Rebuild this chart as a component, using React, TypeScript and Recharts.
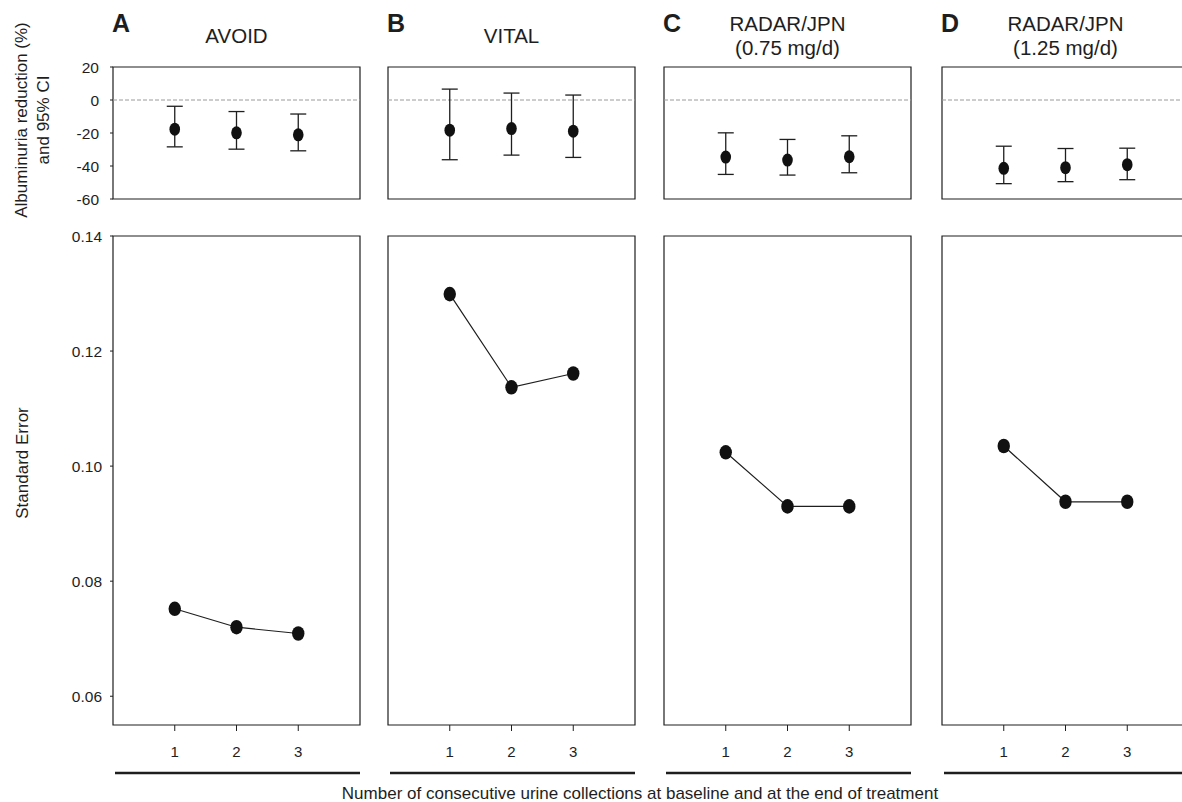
import {
  ScatterChart,
  Scatter,
  LineChart,
  Line,
  XAxis,
  YAxis,
  ErrorBar,
  ReferenceLine,
  ReferenceArea,
} from 'recharts';

const FONT = '"Liberation Sans", Arial, Helvetica, sans-serif';
const INK = '#1e1e1e';

const collections = [1, 2, 3];

const panelLetters = ['A', 'B', 'C', 'D'];
const studyNames = ['AVOID', 'VITAL', 'RADAR/JPN', 'RADAR/JPN'];
const studyDoses = ['', '', '(0.75 mg/d)', '(1.25 mg/d)'];

// albuminuria reduction (%) with 95% CI
const avoidReduction = [-17.7, -19.9, -21.1];
const avoidLower = [-28.4, -29.8, -30.8];
const avoidUpper = [-3.8, -7.0, -8.5];

const vitalReduction = [-18.3, -17.3, -18.9];
const vitalLower = [-36.2, -33.4, -34.8];
const vitalUpper = [6.6, 4.2, 3.0];

const radar075Reduction = [-34.6, -36.4, -34.4];
const radar075Lower = [-45.1, -45.5, -44.1];
const radar075Upper = [-19.9, -23.9, -21.7];

const radar125Reduction = [-41.4, -41.0, -39.2];
const radar125Lower = [-50.7, -49.5, -48.3];
const radar125Upper = [-28.0, -29.4, -29.2];

// standard error
const avoidSE = [0.0752, 0.072, 0.0709];
const vitalSE = [0.1299, 0.1137, 0.1161];
const radar075SE = [0.1024, 0.093, 0.093];
const radar125SE = [0.1035, 0.0938, 0.0938];

const reductionTicks = [20, 0, -20, -40, -60];
const seTicks = [0.06, 0.08, 0.1, 0.12, 0.14];

const PANEL_LEFT = [113, 388, 664, 942];
const PANEL_W = 247;
const AXIS_W = 60;
const TOP_Y = 67;
const TOP_H = 132;
const BOT_Y = 236;
const BOT_H = 489;

function buildReduction(values: number[], lower: number[], upper: number[]) {
  return collections.map((n, i) => ({
    n,
    value: values[i],
    err: [values[i] - lower[i], upper[i] - values[i]],
  }));
}

function buildSE(values: number[]) {
  return collections.map((n, i) => ({ n, se: values[i] }));
}

const reductionSets = [
  buildReduction(avoidReduction, avoidLower, avoidUpper),
  buildReduction(vitalReduction, vitalLower, vitalUpper),
  buildReduction(radar075Reduction, radar075Lower, radar075Upper),
  buildReduction(radar125Reduction, radar125Lower, radar125Upper),
];

const seSets = [buildSE(avoidSE), buildSE(vitalSE), buildSE(radar075SE), buildSE(radar125SE)];

// tick text drawn by hand so the font size sticks
function yTick(fmt: (v: number) => string) {
  return (p: any) => (
    <text x={p.x} y={p.y} dy="0.36em" textAnchor="end" style={{ fontSize: 15.5 }} fill={INK} fontFamily={FONT}>
      {fmt(p.payload.value)}
    </text>
  );
}

function xTick(p: any) {
  return (
    <text x={p.x} y={p.y} dy="0.72em" textAnchor="middle" style={{ fontSize: 15 }} fill={INK} fontFamily={FONT}>
      {p.payload.value}
    </text>
  );
}

function ReductionPanel({ data, showLabels }: { data: any[]; showLabels: boolean }) {
  return (
    <ScatterChart
      width={AXIS_W + PANEL_W + 10}
      height={TOP_H + 20}
      margin={{ top: 10, right: 10, bottom: 10, left: 0 }}
    >
      <XAxis type="number" dataKey="n" domain={[0, 4]} hide allowDataOverflow />
      <YAxis
        type="number"
        dataKey="value"
        domain={[-60, 20]}
        ticks={reductionTicks}
        width={AXIS_W}
        axisLine={false}
        tickSize={3}
        tickMargin={11}
        tickLine={{ stroke: INK }}
        tick={showLabels ? yTick((v) => String(v)) : false}
        allowDataOverflow
      />
      <ReferenceLine y={0} stroke="#9a9a9a" strokeDasharray="4 2" strokeWidth={1} />
      <ReferenceArea x1={0} x2={4} y1={-60} y2={20} fill="none" stroke={INK} strokeWidth={1.2} />
      <Scatter
        data={data}
        isAnimationActive={false}
        shape={(p: any) => <ellipse cx={p.cx} cy={p.cy} rx={5.3} ry={6.5} fill="#111" />}
      >
        <ErrorBar dataKey="err" direction="y" width={8} stroke={INK} strokeWidth={1.3} />
      </Scatter>
    </ScatterChart>
  );
}

function SEPanel({ data, showLabels }: { data: any[]; showLabels: boolean }) {
  return (
    <LineChart
      width={AXIS_W + PANEL_W + 10}
      height={BOT_H + 60}
      data={data}
      margin={{ top: 10, right: 10, bottom: 0, left: 0 }}
    >
      <XAxis
        type="number"
        dataKey="n"
        domain={[0, 4]}
        ticks={collections}
        height={50}
        axisLine={false}
        tickSize={6}
        tickMargin={15}
        tickLine={{ stroke: INK }}
        tick={xTick}
        allowDataOverflow
      />
      <YAxis
        type="number"
        domain={[0.055, 0.14]}
        ticks={seTicks}
        width={AXIS_W}
        axisLine={false}
        tickSize={3}
        tickMargin={8}
        tickLine={{ stroke: INK }}
        tick={showLabels ? yTick((v) => v.toFixed(2)) : false}
        allowDataOverflow
      />
      <ReferenceArea x1={0} x2={4} y1={0.055} y2={0.14} fill="none" stroke={INK} strokeWidth={1.2} />
      <Line
        dataKey="se"
        stroke={INK}
        strokeWidth={1.2}
        isAnimationActive={false}
        dot={(p: any) => <ellipse key={p.index} cx={p.cx} cy={p.cy} rx={6.2} ry={7.3} fill="#111" />}
      />
    </LineChart>
  );
}

export default function App() {
  return (
    <div
      style={{
        position: 'absolute',
        left: 0,
        top: 0,
        width: 1182,
        height: 802,
        overflow: 'hidden',
        background: '#fff',
        fontFamily: FONT,
      }}
    >
      {PANEL_LEFT.map((left, i) => (
        <div key={`top-${i}`} style={{ position: 'absolute', left: left - AXIS_W, top: TOP_Y - 10 }}>
          <ReductionPanel data={reductionSets[i]} showLabels={i === 0} />
        </div>
      ))}
      {PANEL_LEFT.map((left, i) => (
        <div key={`bot-${i}`} style={{ position: 'absolute', left: left - AXIS_W, top: BOT_Y - 10 }}>
          <SEPanel data={seSets[i]} showLabels={i === 0} />
        </div>
      ))}
      <svg
        width={1182}
        height={802}
        style={{ position: 'absolute', left: 0, top: 0, pointerEvents: 'none', fontFamily: FONT }}
      >
        {PANEL_LEFT.map((left, i) => {
          const cx = left + PANEL_W / 2;
          return (
            <g key={`head-${i}`} fill={INK}>
              <text x={left - 1} y={32} fontSize={25} fontWeight="bold">
                {panelLetters[i]}
              </text>
              {studyDoses[i] ? (
                <>
                  <text x={cx} y={31} fontSize={20.5} textAnchor="middle">
                    {studyNames[i]}
                  </text>
                  <text x={cx} y={55} fontSize={20.5} textAnchor="middle">
                    {studyDoses[i]}
                  </text>
                </>
              ) : (
                <text x={cx} y={43} fontSize={20.5} textAnchor="middle">
                  {studyNames[i]}
                </text>
              )}
              <line x1={left + 2} x2={left + PANEL_W} y1={773} y2={773} stroke={INK} strokeWidth={2.6} />
            </g>
          );
        })}
        <text x={27} y={120} fontSize={17} fill={INK} textAnchor="middle" transform="rotate(-90 27 120)">
          Albuminuria reduction (%)
        </text>
        <text x={49} y={120} fontSize={17} fill={INK} textAnchor="middle" transform="rotate(-90 49 120)">
          and 95% CI
        </text>
        <text x={28} y={463} fontSize={17} fill={INK} textAnchor="middle" transform="rotate(-90 28 463)">
          Standard Error
        </text>
        <text x={640} y={799} fontSize={17} fill={INK} textAnchor="middle">
          Number of consecutive urine collections at baseline and at the end of treatment
        </text>
      </svg>
    </div>
  );
}
